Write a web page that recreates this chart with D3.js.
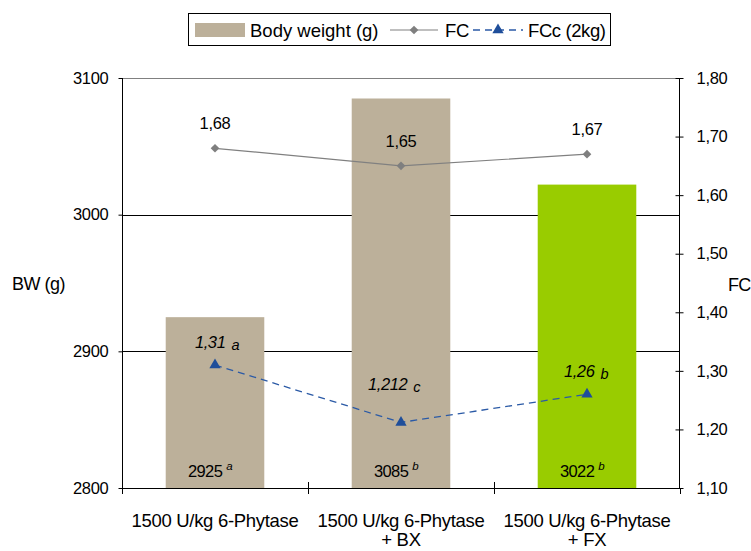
<!DOCTYPE html>
<html>
<head>
<meta charset="utf-8">
<script src="https://cdn.jsdelivr.net/npm/d3@7"></script>
<style>
  body { margin: 0; background: #fff; }
  svg { font-family: "Liberation Sans", Arial, sans-serif; }
</style>
</head>
<body>
<svg id="chart" width="751" height="551"></svg>
<script>
// Treatments (two-line category labels)
const categories = ["1500 U/kg 6-Phytase", "1500 U/kg 6-Phytase|+ BX", "1500 U/kg 6-Phytase|+ FX"];
// Body weight (g), with significance letters
const bodyWeight = [2925, 3085, 3022];
const bwLetters = ["a", "b", "b"];
// Feed conversion
const fc = [1.68, 1.65, 1.67];
const fcLabels = ["1,68", "1,65", "1,67"];
// Corrected feed conversion at 2 kg
const fcc = [1.31, 1.212, 1.26];
const fccLabels = ["1,31", "1,212", "1,26"];
const fccLetters = ["a", "c", "b"];
// Axis ticks
const bwTicks = [2800, 2900, 3000, 3100];
const fcTicks = [1.1, 1.2, 1.3, 1.4, 1.5, 1.6, 1.7, 1.8];
const barColors = ["#BCB09A", "#BCB09A", "#99CC00"];

const svg = d3.select("#chart");
const pLeft = 122, pRight = 680, pTop = 78, pBottom = 488;
const FONT = "Liberation Sans, Arial, sans-serif";

const x = d3.scaleBand().domain(d3.range(categories.length)).range([pLeft, pRight]).paddingInner(0.47).paddingOuter(0.235);
const xBand = d3.scaleBand().domain(d3.range(categories.length)).range([pLeft, pRight]);
const yL = d3.scaleLinear().domain([2800, 3100]).range([pBottom, pTop]);
const yR = d3.scaleLinear().domain([1.1, 1.8]).range([pBottom, pTop]);
const cx = i => xBand(i) + xBand.bandwidth() / 2;

// Horizontal gridlines
svg.append("g").selectAll("line").data(bwTicks.slice(1)).join("line")
  .attr("x1", pLeft).attr("x2", pRight)
  .attr("y1", d => Math.round(yL(d)) + 0.5).attr("y2", d => Math.round(yL(d)) + 0.5)
  .attr("stroke", d => d === 3100 ? "#808080" : "#000").attr("stroke-width", 1);

// Bars
svg.append("g").selectAll("rect").data(bodyWeight).join("rect")
  .attr("x", (d, i) => cx(i) - x.bandwidth() / 2)
  .attr("width", x.bandwidth())
  .attr("y", d => yL(d))
  .attr("height", d => pBottom - yL(d))
  .attr("fill", (d, i) => barColors[i]);

// Left axis
const axL = svg.append("g").attr("transform", `translate(${pLeft + 0.5},0)`)
  .call(d3.axisLeft(yL).tickValues(bwTicks).tickSize(4).tickPadding(10).tickFormat(d3.format("d")));
axL.select(".domain").attr("stroke", "#000").attr("d", `M0,${pTop}V${pBottom + 4}`);
axL.selectAll("text").attr("font-size", 16.5).attr("fill", "#000").attr("font-family", FONT).attr("letter-spacing", -0.3);

// Right axis (ticks crossing the line)
const axR = svg.append("g").attr("transform", `translate(${pRight - 0.5},0)`)
  .call(d3.axisRight(yR).tickValues(fcTicks).tickSize(4).tickPadding(13).tickFormat(d => d3.format(".2f")(d).replace(".", ",")));
axR.select(".domain").attr("stroke", "#000").attr("d", `M0,${pTop}V${pBottom}`);
axR.selectAll(".tick line").attr("x1", -4).attr("stroke", "#000");
axR.selectAll("text").attr("font-size", 16.5).attr("fill", "#000").attr("font-family", FONT).attr("letter-spacing", -0.3);

// Bottom axis with ticks at category boundaries
svg.append("line").attr("x1", pLeft).attr("x2", pRight).attr("y1", pBottom + 0.5).attr("y2", pBottom + 0.5).attr("stroke", "#000");
const bounds = d3.range(categories.length + 1).map(i => i < categories.length ? xBand(i) : xBand(i - 1) + xBand.bandwidth());
svg.append("g").selectAll("line").data(bounds).join("line")
  .attr("x1", d => Math.round(d) + 0.5).attr("x2", d => Math.round(d) + 0.5)
  .attr("y1", (d, i) => (i === 0 || i === bounds.length - 1) ? pBottom : pBottom - 6)
  .attr("y2", pBottom + 6).attr("stroke", "#000");

// Category labels
const cat = svg.append("g").selectAll("text").data(categories).join("text")
  .attr("x", (d, i) => cx(i)).attr("y", 527)
  .attr("text-anchor", "middle").attr("font-size", 18.5).attr("letter-spacing", -0.3).attr("fill", "#000");
cat.each(function(d) {
  const parts = d.split("|");
  d3.select(this).selectAll("tspan").data(parts).join("tspan")
    .attr("x", d3.select(this).attr("x"))
    .attr("dy", (p, j) => j === 0 ? 0 : 19)
    .text(p => p);
});

// Axis titles
svg.append("text").attr("x", 12).attr("y", 290).attr("font-size", 18).attr("letter-spacing", -0.5).text("BW (g)");
svg.append("text").attr("x", 728).attr("y", 291).attr("font-size", 18).attr("letter-spacing", -0.8).text("FC");

// FC line
const lineFC = d3.line().x((d, i) => cx(i)).y(d => yR(d));
svg.append("path").datum(fc).attr("d", lineFC).attr("fill", "none").attr("stroke", "#808080").attr("stroke-width", 1.2);
svg.append("g").selectAll("path").data(fc).join("path")
  .attr("transform", (d, i) => `translate(${cx(i)},${yR(d)})`)
  .attr("d", d3.symbol(d3.symbolDiamond2, 48)).attr("fill", "#7F7F7F");
svg.append("g").selectAll("text").data(fcLabels).join("text")
  .attr("x", (d, i) => cx(i)).attr("y", (d, i) => yR(fc[i]) - 19)
  .attr("text-anchor", "middle").attr("font-size", 16.5).attr("letter-spacing", -0.3).text(d => d);

// FCc line
const lineFCc = d3.line().x((d, i) => cx(i)).y(d => yR(d));
svg.append("path").datum(fcc).attr("d", lineFCc).attr("fill", "none").attr("stroke", "#2B5AA6").attr("stroke-width", 1.3).attr("stroke-dasharray", "7,5");
svg.append("g").selectAll("path").data(fcc).join("path")
  .attr("transform", (d, i) => `translate(${cx(i)},${yR(d)})`)
  .attr("d", d3.symbol(d3.symbolTriangle, 55)).attr("fill", "#1F4E9A");
const fccOffsets = [-17, -32, -17];
const fccShift = [2, -7, -1];
const fccText = svg.append("g").selectAll("text").data(fccLabels).join("text")
  .attr("x", (d, i) => cx(i) + fccShift[i]).attr("y", (d, i) => yR(fcc[i]) + fccOffsets[i])
  .attr("text-anchor", "middle").attr("font-size", 16.5).attr("font-style", "italic").attr("letter-spacing", -0.4);
fccText.append("tspan").text(d => d);
fccText.append("tspan").attr("dx", 6).attr("font-size", 14.5).attr("dy", 2).text((d, i) => fccLetters[i]);

// Body weight labels at bar bases
const bwText = svg.append("g").selectAll("text").data(bodyWeight).join("text")
  .attr("x", (d, i) => cx(i) - 5).attr("y", 477)
  .attr("text-anchor", "middle").attr("font-size", 16.5).attr("letter-spacing", -0.6);
bwText.append("tspan").text(d => d);
bwText.append("tspan").attr("dx", 4).attr("dy", -7).attr("font-size", 11.5).attr("font-style", "italic").text((d, i) => bwLetters[i]);

// Legend
const lg = svg.append("g");
lg.append("rect").attr("x", 188.5).attr("y", 13.5).attr("width", 422).attr("height", 32).attr("fill", "#fff").attr("stroke", "#000");
lg.append("rect").attr("x", 195).attr("y", 23).attr("width", 50).attr("height", 14).attr("fill", barColors[0]);
lg.append("text").attr("x", 250).attr("y", 36.5).attr("font-size", 18.5).attr("letter-spacing", 0).text("Body weight (g)");
lg.append("line").attr("x1", 390).attr("x2", 438).attr("y1", 30).attr("y2", 30).attr("stroke", "#808080").attr("stroke-width", 1.2);
lg.append("path").attr("transform", "translate(414,30)").attr("d", d3.symbol(d3.symbolDiamond2, 48)).attr("fill", "#7F7F7F");
lg.append("text").attr("x", 445).attr("y", 36.5).attr("font-size", 18.5).attr("letter-spacing", -0.3).text("FC");
lg.append("line").attr("x1", 473).attr("x2", 523).attr("y1", 30).attr("y2", 30).attr("stroke", "#2B5AA6").attr("stroke-width", 1.3).attr("stroke-dasharray", "7,5");
lg.append("path").attr("transform", "translate(498,30)").attr("d", d3.symbol(d3.symbolTriangle, 55)).attr("fill", "#1F4E9A");
lg.append("text").attr("x", 528).attr("y", 36.5).attr("font-size", 18.5).attr("letter-spacing", -0.4).text("FCc (2kg)");
</script>
</body>
</html>
